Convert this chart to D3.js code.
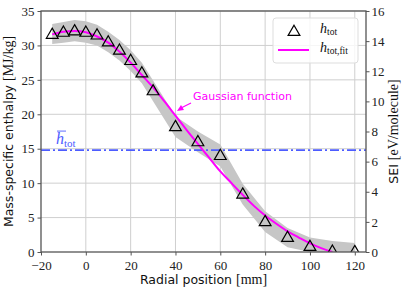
<!DOCTYPE html>
<html>
<head>
<meta charset="utf-8">
<script src="https://cdn.jsdelivr.net/npm/d3@7"></script>
<style>
  body { margin: 0; background: #fff; }
  svg { display: block; }
  .tick text { font-family: "Liberation Serif", serif; font-size: 13px; fill: #222; }
</style>
</head>
<body>
<div id="chart"></div>
<script>
/*** DATA ***/
const radialPos = [-15, -10, -5, 0, 5, 10, 15, 20, 25, 30, 40, 50, 60, 70, 80, 90, 100, 110, 120];
const hTot      = [31.6, 31.9, 32.1, 31.9, 31.5, 30.5, 29.3, 27.8, 26.0, 23.4, 18.2, 16.0, 14.0, 8.4, 4.4, 2.1, 0.8, 0.1, 0.05];
const bandLow   = [30.2, 30.4, 30.6, 30.4, 30.0, 29.0, 27.8, 26.3, 24.5, 21.9, 16.7, 14.5, 12.4, 6.9, 2.9, 0.7, 0.0, 0.0, 0.0];
const bandHigh  = [33.1, 33.4, 33.7, 33.5, 33.0, 32.0, 30.8, 29.3, 27.5, 24.9, 19.7, 17.5, 15.6, 9.9, 5.9, 3.5, 2.1, 1.6, 1.3];

const fitPos    = [-15, -10, -5, 0, 5, 10, 15, 20, 25, 30, 35, 40, 45, 50, 55, 60, 65, 70, 75, 80, 85, 90, 95, 100, 105, 110];
const hFit      = [31.6, 32.0, 32.1, 31.9, 31.3, 30.4, 29.1, 27.5, 25.7, 23.9, 21.9, 19.8, 17.7, 15.7, 13.7, 11.7, 10.0, 8.3, 6.7, 5.3, 4.1, 3.0, 2.1, 1.25, 0.57, 0.0];

const hMean = 14.8;

const xTicks = [-20, 0, 20, 40, 60, 80, 100, 120];
const yTicks = [0, 5, 10, 15, 20, 25, 30, 35];
const seiTicks = [0, 2, 4, 6, 8, 10, 12, 14, 16];

/*** GRAPH ***/
const width = 407, height = 293;
const margin = {top: 11, right: 41, bottom: 41, left: 41};

const svg = d3.select("#chart").append("svg")
    .attr("width", width)
    .attr("height", height);

const x = d3.scaleLinear().domain([-20, 125]).range([margin.left, width - margin.right]);
const y = d3.scaleLinear().domain([0, 35]).range([height - margin.bottom, margin.top]);
const ySei = d3.scaleLinear().domain([0, 16]).range([height - margin.bottom, margin.top]);

svg.append("clipPath").attr("id", "clip")
    .append("rect")
    .attr("x", margin.left).attr("y", margin.top)
    .attr("width", width - margin.left - margin.right)
    .attr("height", height - margin.top - margin.bottom);

// grid
const grid = svg.append("g").attr("stroke", "#cfcfcf").attr("stroke-width", 1);
grid.selectAll("line.gx").data(xTicks.slice(1)).enter().append("line")
    .attr("x1", d => x(d)).attr("x2", d => x(d))
    .attr("y1", margin.top).attr("y2", height - margin.bottom);
grid.selectAll("line.gy").data(yTicks.slice(1)).enter().append("line")
    .attr("y1", d => y(d)).attr("y2", d => y(d))
    .attr("x1", margin.left).attr("x2", width - margin.right);

const plot = svg.append("g").attr("clip-path", "url(#clip)");

// uncertainty band
const band = d3.area()
    .x((d, i) => x(radialPos[i]))
    .y0((d, i) => y(bandLow[i]))
    .y1((d, i) => y(bandHigh[i]))
    .curve(d3.curveLinear);
plot.append("path")
    .datum(hTot)
    .attr("fill", "#c6c6c6")
    .attr("d", band);

// mean line
plot.append("line")
    .attr("x1", margin.left).attr("x2", width - margin.right)
    .attr("y1", y(hMean)).attr("y2", y(hMean))
    .attr("stroke", "#4d5cff")
    .attr("stroke-width", 1.8)
    .attr("stroke-dasharray", "9,3,2,3");

// fit
const fitLine = d3.line()
    .x((d, i) => x(fitPos[i]))
    .y(d => y(d))
    .curve(d3.curveMonotoneX);
plot.append("path")
    .datum(hFit)
    .attr("fill", "none")
    .attr("stroke", "#ff00ff")
    .attr("stroke-width", 2)
    .attr("d", fitLine);

// triangles
const tri = d3.symbol().type(d3.symbolTriangle).size(60);
plot.selectAll("path.tri")
    .data(hTot)
    .enter().append("path")
    .attr("class", "tri")
    .attr("transform", (d, i) => "translate(" + x(radialPos[i]) + "," + (y(d) + 0.5) + ")")
    .attr("d", tri)
    .attr("fill", "none")
    .attr("stroke", "#000")
    .attr("stroke-width", 1.2);

// axes
const axisColor = "#555";
const gx = svg.append("g")
    .attr("transform", "translate(0," + (height - margin.bottom) + ")")
    .call(d3.axisBottom(x).tickValues(xTicks).tickSize(3.5).tickPadding(4.5)
        .tickFormat(d => d < 0 ? "\u2212" + Math.abs(d) : d));
const gy = svg.append("g")
    .attr("transform", "translate(" + margin.left + ",0)")
    .call(d3.axisLeft(y).tickValues(yTicks).tickSize(3.5).tickPadding(3));
const gr = svg.append("g")
    .attr("transform", "translate(" + (width - margin.right) + ",0)")
    .call(d3.axisRight(ySei).tickValues(seiTicks).tickSize(3.5).tickPadding(2));
[gx, gy, gr].forEach(g => {
    g.select(".domain").remove();
    g.selectAll(".tick line").attr("stroke", axisColor);
});
gx.selectAll(".tick text").attr("dy", "0.75em");

// spines
svg.append("rect")
    .attr("x", margin.left).attr("y", margin.top)
    .attr("width", width - margin.left - margin.right)
    .attr("height", height - margin.top - margin.bottom)
    .attr("fill", "none")
    .attr("stroke", axisColor)
    .attr("stroke-width", 1.3);

// labels
svg.append("text")
    .attr("transform", "translate(13," + ((margin.top + height - margin.bottom) / 2) + ") rotate(-90)")
    .attr("text-anchor", "middle")
    .attr("font-family", "'DejaVu Sans', sans-serif")
    .attr("font-size", 12.5)
    .attr("fill", "#111")
    .html('Mass-specific enthalpy <tspan font-family="Liberation Serif, serif" font-size="14">[MJ/kg]</tspan>');

svg.append("text")
    .attr("transform", "translate(398," + ((margin.top + height - margin.bottom) / 2) + ") rotate(-90)")
    .attr("text-anchor", "middle")
    .attr("font-family", "'DejaVu Sans', sans-serif")
    .attr("font-size", 12.5)
    .attr("fill", "#111")
    .html('SEI <tspan font-family="Liberation Serif, serif" font-size="14">[eV/molecule]</tspan>');

svg.append("text")
    .attr("x", (margin.left + width - margin.right) / 2)
    .attr("y", 284)
    .attr("text-anchor", "middle")
    .attr("font-family", "'DejaVu Sans', sans-serif")
    .attr("font-size", 12.5)
    .attr("fill", "#111")
    .html('Radial position <tspan font-family="Liberation Serif, serif" font-size="14">[mm]</tspan>');

// mean label
const meanLabel = svg.append("text")
    .attr("x", 56).attr("y", y(hMean) - 6)
    .attr("font-family", "'Liberation Serif', serif")
    .attr("fill", "#4d5cff");
meanLabel.append("tspan").attr("font-style", "italic").attr("font-size", 16).text("h");
meanLabel.append("tspan").attr("font-size", 11).attr("dy", 3).text("tot");
svg.append("line")
    .attr("x1", 57).attr("x2", 66)
    .attr("y1", y(hMean) - 19).attr("y2", y(hMean) - 19)
    .attr("stroke", "#4d5cff").attr("stroke-width", 0.9);

// annotation
svg.append("text")
    .attr("x", 193).attr("y", 100)
    .attr("font-family", "'DejaVu Sans', sans-serif")
    .attr("font-size", 11)
    .attr("fill", "#ff00ff")
    .text("Gaussian function");
svg.append("line")
    .attr("x1", 191).attr("y1", 103)
    .attr("x2", 181).attr("y2", 108)
    .attr("stroke", "#ff00ff").attr("stroke-width", 1.2);
svg.append("path")
    .attr("d", d3.line()([[177, 111], [181, 105], [184, 110]]))
    .attr("fill", "#ff00ff");

// legend
const lg = svg.append("g");
lg.append("rect")
    .attr("x", 273).attr("y", 18).attr("width", 85).attr("height", 45)
    .attr("rx", 3)
    .attr("fill", "#fff").attr("fill-opacity", 0.8)
    .attr("stroke", "#ddd");
lg.append("path")
    .attr("transform", "translate(294,32)")
    .attr("d", tri)
    .attr("fill", "none").attr("stroke", "#000").attr("stroke-width", 1.2);
lg.append("line")
    .attr("x1", 278).attr("x2", 309).attr("y1", 50).attr("y2", 50)
    .attr("stroke", "#ff00ff").attr("stroke-width", 2);
const l1 = lg.append("text").attr("x", 320).attr("y", 33)
    .attr("font-family", "'Liberation Serif', serif").attr("fill", "#111");
l1.append("tspan").attr("font-style", "italic").attr("font-size", 14).text("h");
l1.append("tspan").attr("font-size", 9.5).attr("dy", 2).text("tot");
const l2 = lg.append("text").attr("x", 320).attr("y", 52)
    .attr("font-family", "'Liberation Serif', serif").attr("fill", "#111");
l2.append("tspan").attr("font-style", "italic").attr("font-size", 14).text("h");
l2.append("tspan").attr("font-size", 9.5).attr("dy", 2).text("tot,fit");
</script>
</body>
</html>
